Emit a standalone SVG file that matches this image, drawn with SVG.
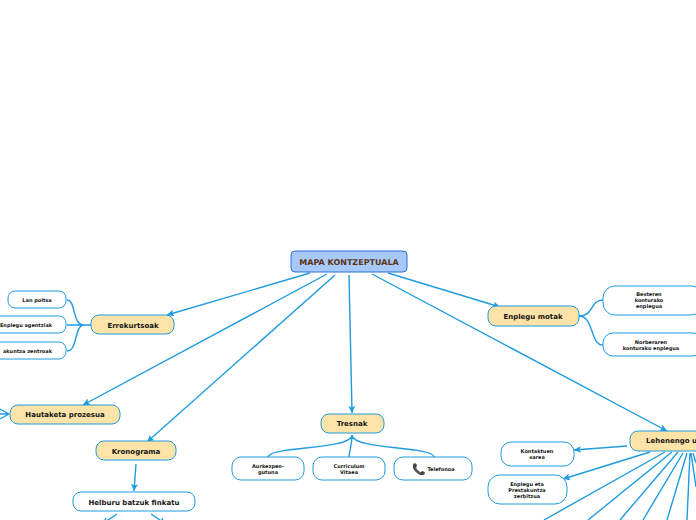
<svg xmlns="http://www.w3.org/2000/svg" width="696" height="520" viewBox="0 0 696 520">
<style>
text{font-family:"DejaVu Sans",sans-serif;font-weight:700;text-anchor:middle;fill:#151515;text-rendering:geometricPrecision}
.c path,.c line{fill:none;stroke:#1f9be0;stroke-width:1.4}
.c line{marker-end:url(#a)}
.t rect{fill:#fde3a7;stroke:#1f9be0;stroke-width:1}
.s rect{fill:#fff;stroke:#1f9be0;stroke-width:1}
.t text{font-size:7px}
.s text{font-size:5px}
</style>
<defs><marker id="a" markerWidth="9" markerHeight="9" refX="7" refY="3.5" orient="auto" markerUnits="userSpaceOnUse"><path d="M0 0L7 3.5L0 7L1.5 3.5Z" fill="#1f9be0"/></marker></defs>
<g class="c">
<line x1="310" y1="273" x2="167" y2="315"/>
<line x1="327" y1="274" x2="83" y2="405"/>
<line x1="335" y1="275" x2="147" y2="442"/>
<line x1="349" y1="275" x2="352" y2="413"/>
<line x1="372" y1="274" x2="667" y2="431"/>
<line x1="388" y1="273" x2="500" y2="307"/>
<line x1="136" y1="464" x2="134" y2="491"/>
<line x1="117" y1="514" x2="102" y2="524"/>
<line x1="151" y1="514" x2="166" y2="524"/>
<line x1="627" y1="446" x2="574" y2="450"/>
<line x1="650" y1="452" x2="563" y2="479"/>
<path d="M91 325H84C72 325 76 300 67 300M91 325H67M91 325H84C74 325 78 351 67 351"/>
<path d="M579 316C594 316 590 300 603 300M579 316C594 316 590 345 603 345"/>
<path d="M352 435C352 450 270 446 268 457M352 435C352 445 350 447 349 457M352 435C352 450 433 446 434 457"/>
<path d="M9 414L0 409M9 414H0M9 414L0 419"/>
<path d="M665 452L544 520M672 452L588 520M678 452L620 520M683 453L643 520M687 453L667 520M690 453L687 520M691 453L696 487M693 453L696 463"/>
</g>
<g id="root"><rect x="291" y="251" width="116" height="21" rx="4" fill="#a7c9fa" stroke="#2a6fd6"/><text x="349" y="265" font-size="8" style="fill:#5c3312">MAPA KONTZEPTUALA</text></g>
<g id="errekurtsoak" class="t"><rect x="91" y="315" width="83" height="19" rx="8"/><text x="133" y="328">Errekurtsoak</text></g>
<g id="lanpoltsa" class="s"><rect x="8" y="291" width="58" height="17" rx="7"/><text x="37" y="302">Lan poltsa</text></g>
<g id="agentziak" class="s"><rect x="-10" y="316" width="76" height="17" rx="7"/><text x="26" y="327">Enplegu agentziak</text></g>
<g id="zentroak" class="s"><rect x="-30" y="342" width="96" height="17" rx="7"/><text x="52" y="353" style="text-anchor:end">akuntza zentroak</text></g>
<g id="hautaketa" class="t"><rect x="10" y="405" width="110" height="19" rx="8"/><text x="65" y="417">Hautaketa prozesua</text></g>
<g id="kronograma" class="t"><rect x="96" y="441" width="80" height="19" rx="8"/><text x="136" y="454">Kronograma</text></g>
<g id="helburu" class="s"><rect x="73" y="492" width="122" height="19" rx="8"/><text x="134" y="505" style="font-size:7px">Helburu batzuk finkatu</text></g>
<g id="tresnak" class="t"><rect x="321" y="414" width="63" height="19" rx="8"/><text x="352" y="426">Tresnak</text></g>
<g id="aurkezpen" class="s"><rect x="232" y="457" width="72" height="23" rx="9"/><text x="268" y="468">Aurkezpen-</text><text x="268" y="474">gutuna</text></g>
<g id="cv" class="s"><rect x="313" y="457" width="72" height="23" rx="9"/><text x="349" y="468">Curriculum</text><text x="349" y="474">Vitaea</text></g>
<g id="telefonoa" class="s"><rect x="394" y="457" width="78" height="23" rx="9"/><text x="419" y="473" style="font-size:11px;font-weight:400">📞</text><text x="441" y="471">Telefonoa</text></g>
<g id="motak" class="t"><rect x="488" y="306" width="91" height="20" rx="8"/><text x="533" y="319">Enplegu motak</text></g>
<g id="besteren" class="s"><rect x="603" y="286" width="100" height="29" rx="12"/><text x="649" y="296">Besteren</text><text x="649" y="302">konturako</text><text x="649" y="308">enplegua</text></g>
<g id="norberaren" class="s"><rect x="603" y="333" width="100" height="23" rx="10"/><text x="651" y="344">Norberaren</text><text x="651" y="350">konturako enplegua</text></g>
<g id="lehenengo" class="t"><rect x="630" y="431" width="90" height="20" rx="8"/><text x="646" y="443" style="text-anchor:start">Lehenengo u</text></g>
<g id="kontaktuen" class="s"><rect x="501" y="442" width="73" height="24" rx="10"/><text x="537" y="453">Kontaktuen</text><text x="537" y="459">sarea</text></g>
<g id="zerbitzua" class="s"><rect x="488" y="475" width="79" height="29" rx="12"/><text x="527" y="486">Enplegu eta</text><text x="527" y="492">Prestakuntza</text><text x="527" y="498">zerbitzua</text></g>
</svg>
